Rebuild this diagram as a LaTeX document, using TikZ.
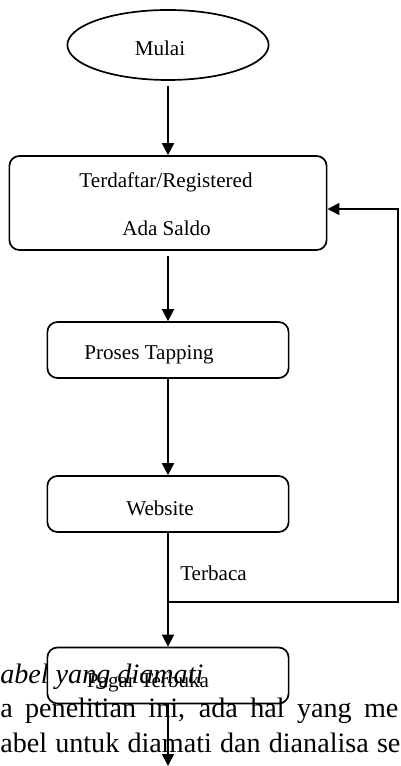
\documentclass[tikz,border=0pt]{standalone}
\usepackage{fontspec}
\setmainfont{Liberation Serif}
\usetikzlibrary{shapes.geometric,arrows.meta}
\tikzset{
  box/.style={draw, rounded corners=0.25cm, line width=1.2pt, minimum width=6.03cm, minimum height=1.4cm, inner sep=0pt},
  lbl/.style={font=\fontsize{15}{18}\selectfont, inner sep=0pt},
  body/.style={font=\fontsize{20}{24}\selectfont, inner sep=0pt, anchor=base west},
  arr/.style={line width=1.2pt, -{Triangle[length=0.3cm,width=0.3cm]}}
}
\begin{document}
\begin{tikzpicture}[x=0.025cm, y=-0.025cm]
            \def\xm{168};
            \def\xr{398};

            \def \ya{45};
            \def \yb{203};
            \def \yc{350};
            \def \yd{504};
            \def \yj{602};
            \def \ye{675.5};

            \useasboundingbox (0,0) rectangle (400,766);
            \clip (0,0) rectangle (400,766);

            % page text lying behind the chart
            \node[body, font=\fontsize{20}{24}\selectfont\itshape] (p0) at (0,683) {abel yang diamati};
            \node[body] (p1) at (0,717) {\makebox[9.95cm][s]{a penelitian ini, ada hal yang me}};
            \node[body] (p2) at (0,752) {\makebox[10cm][s]{abel untuk diamati dan dianalisa se}};

            \node[ellipse, draw, line width=1.2pt, minimum width=5.03cm, minimum height=1.75cm] (a) at (\xm, \ya) {};
            \node[lbl] at (160, 48) {Mulai};

            \node[box, minimum width=7.93cm, minimum height=2.35cm] (b) at (\xm, \yb) {};
            \node[lbl] at (166, 182) {Terdaftar/Registered};
            \node[lbl] at (166.5, 228) {Ada Saldo};

            \node[box] (c) at (\xm, \yc) {};
            \node[lbl] at (149, 355) {Proses Tapping};

            \node[box] (d) at (\xm, \yd) {};
            \node[lbl] at (160, 508) {Website};

            \node[box] (e) at (\xm, \ye) {};
            \node[lbl] at (148, 682) {Pagar Terbuka};

            \coordinate (f) at (\xm, \yj);
            \coordinate (g) at (\xr, \yj);
            \coordinate (h) at (\xr, 209);
            \coordinate (z) at (\xm, 766);

            \node[lbl, anchor=west] (t) at (180, 573) {Terbaca};

            \draw[arr, shorten <=0.12cm] (a) -- (b);
            \draw[arr, shorten <=0.12cm] (b) -- (c);
            \draw[arr] (c) -- (d);
            \draw[arr] (d) -- (e);
            \draw[arr] (f) -- (g) -- (h) -- (b.east |- h);
            \draw[arr] (e) -- (z);

        \end{tikzpicture}
\end{document}
